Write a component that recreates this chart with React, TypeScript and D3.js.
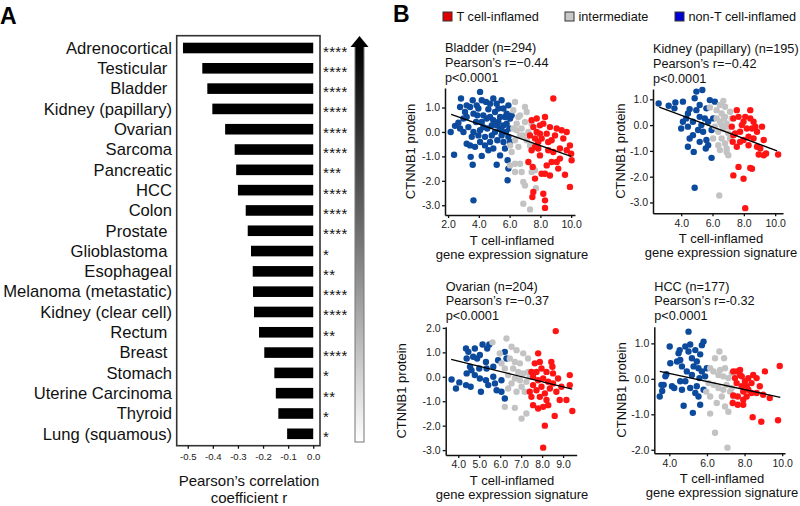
import React, { useEffect, useRef } from "react";
import * as d3 from "d3";

const FONT = "'Liberation Sans', Arial, Helvetica, sans-serif";

// ---- panel A data ----
const cancerTypes = [
  "Adrenocortical", "Testicular ", "Bladder ", "Kidney (papillary)", "Ovarian",
  "Sarcoma", "Pancreatic", "HCC", "Colon", "Prostate ", "Glioblastoma ",
  "Esophageal", "Melanoma (metastatic)", "Kidney (clear cell)", "Rectum ",
  "Breast ", "Stomach", "Uterine Carcinoma", "Thyroid", "Lung (squamous)",
];
const pearsonR = [
  -0.519, -0.442, -0.422, -0.402, -0.351, -0.313, -0.307, -0.3, -0.269, -0.261,
  -0.248, -0.241, -0.24, -0.236, -0.216, -0.195, -0.155, -0.149, -0.139, -0.104,
];
const significance = [
  "****", "****", "****", "****", "****", "****", "***", "****", "****", "****",
  "*", "**", "****", "****", "**", "****", "*", "**", "*", "*",
];
const rTicks = [-0.5, -0.4, -0.3, -0.2, -0.1, 0.0];

// ---- panel B data ----
const legendLabels = ["T cell-inflamed", "intermediate", "non-T cell-inflamed"];

const bladderTitle = ["Bladder (n=294)", "Pearson\u2019s r=\u22120.44", "p<0.0001"];
const bladderNonInflamed = [
  [2.17, 0.0], [2.45, 0.25], [2.39, -0.93], [2.67, 0.38], [2.84, 1.37], [2.78, 1.02], [3.1, 0.82],
  [3.0, 0.55], [3.32, 0.2], [3.21, -0.48], [3.43, -0.55], [3.47, -1.02], [3.6, -1.34], [3.75, -0.61],
  [3.6, 1.3], [3.43, 1.02], [3.86, 1.09], [4.08, 1.64], [3.9, 0.68], [4.19, 0.41], [4.08, 0.07],
  [3.97, -0.14], [3.82, 0.41], [4.19, -0.98], [4.4, -0.55], [4.47, 1.23], [4.62, 0.93], [4.73, 0.61],
  [4.55, 0.14], [4.84, -0.14], [4.94, 1.37], [5.16, 1.16], [5.05, 0.82], [5.27, 0.41], [5.38, 0.14],
  [5.2, -0.34], [5.16, -1.34], [5.38, -0.96], [5.6, 0.96], [5.7, 0.61], [5.81, 0.34], [5.77, 0.0],
  [5.6, -0.41], [5.92, 1.09], [5.48, 1.3], [5.87, -1.16], [5.92, -1.5], [5.87, -1.98], [6.03, 0.55],
  [5.98, 0.14], [6.13, 0.68], [4.51, 0.55], [4.29, 0.68], [4.84, 0.27], [5.05, 0.0], [5.48, -0.14],
  [4.4, -0.2], [4.73, -0.41], [4.94, -0.68], [4.08, -0.41], [3.54, -0.2], [3.0, 0.0], [2.78, 0.14],
  [3.21, 0.61], [3.65, 0.75], [5.38, 0.61], [5.6, 0.27], [5.16, 0.27], [4.62, -0.75], [5.7, -0.68],
  [3.65, 0.0], [3.21, 1.09], [3.65, -2.8], [5.27, 0.96], [5.81, 0.75], [4.94, 0.48], [5.48, 0.07],
  [5.92, -0.2], [6.03, -0.41], [4.29, 0.2], [3.97, 0.96], [4.73, 1.16], [4.19, 1.3],
];
const bladderIntermediate = [
  [6.35, 1.23], [6.24, 0.89], [6.57, 0.61], [7.0, 1.02], [7.11, 0.82], [6.46, 0.34], [6.78, 0.14],
  [6.68, -0.14], [7.0, 0.41], [6.24, 0.14], [6.35, -0.34], [6.13, -0.82], [6.35, -1.3], [6.68, -1.3],
  [6.03, -1.37], [6.35, -1.64], [6.78, -1.64], [6.89, -2.05], [7.0, -2.19], [7.11, -0.34], [7.22, 0.0],
  [7.33, -0.55], [7.71, -2.3], [6.89, -2.94], [7.33, -3.17], [6.03, -0.55], [6.57, -0.61], [7.43, 0.34],
  [6.89, -0.14], [6.46, 0.07], [6.68, 0.68], [7.43, -1.64], [7.65, -1.57],
];
const bladderInflamed = [
  [7.43, 0.48], [7.54, 0.2], [7.76, 0.0], [7.97, 0.27], [8.19, 0.34], [8.41, -0.07], [8.08, -0.27],
  [7.86, -0.41], [7.65, -0.61], [7.43, -0.75], [7.22, -1.23], [7.5, -1.43], [7.97, -0.96], [8.08, -1.71],
  [8.3, -1.71], [8.41, -1.37], [8.73, -1.23], [9.06, -1.23], [9.27, -0.68], [9.49, -0.27], [9.71, 0.0],
  [9.92, -0.55], [10.0, -0.89], [10.03, -1.16], [9.92, -2.25], [9.6, -1.75], [8.84, 1.37], [9.06, 0.14],
  [9.38, 0.07], [8.73, -0.34], [8.51, -0.75], [8.84, -0.82], [8.19, -2.53], [8.3, -2.8], [8.3, -3.11],
  [7.54, -2.46], [7.48, -2.66], [7.65, -1.91], [9.16, -1.5], [7.76, 0.55], [8.3, 0.61], [8.62, 0.2],
  [8.95, -0.14], [7.97, -0.07], [8.51, -0.41], [9.27, -1.09], [9.71, -0.75], [7.86, -0.68], [8.62, -1.78],
  [7.32, -0.14], [7.65, -0.27],
];
const bladderFit = [[2.2, 0.72], [10.0, -1.0]];

const kidneyTitle = ["Kidney (papillary) (n=195)", "Pearson\u2019s r=\u22120.42", "p<0.0001"];
const kidneyNonInflamed = [
  [2.56, 0.84], [3.2, 0.75], [3.63, 0.88], [3.57, 0.65], [4.11, 0.91], [4.54, 0.62], [4.86, 1.04],
  [4.97, 1.3], [5.35, 1.36], [5.18, 0.78], [5.61, 0.65], [5.83, 0.97], [6.15, 0.91], [4.11, 0.13],
  [4.32, 0.26], [4.0, -0.13], [4.43, -0.06], [4.54, -0.52], [4.43, -0.84], [4.8, -1.04], [4.75, -0.39],
  [5.08, -0.19], [5.29, 0.0], [5.18, 0.32], [5.51, 0.26], [5.72, 0.13], [5.61, -0.58], [5.57, -0.91],
  [5.72, -0.78], [5.94, -1.27], [4.86, -2.43], [6.04, 0.26], [5.4, -0.26], [4.75, 0.13], [4.97, 0.58],
  [4.43, 0.45], [5.94, -0.19], [5.18, -0.65],
];
const kidneyIntermediate = [
  [6.69, 0.94], [6.26, 0.58], [6.58, 0.45], [6.8, 0.32], [6.47, 0.13], [6.9, 0.06], [6.69, -0.13],
  [6.37, -0.26], [7.01, -0.32], [6.58, -0.52], [6.8, -0.71], [6.37, -0.78], [6.9, -0.91], [7.01, -1.17],
  [6.47, -0.97], [6.15, -0.06], [7.12, 0.52], [6.04, -0.52], [6.8, 0.71], [5.83, 0.68], [6.43, -2.73],
  [7.01, -0.06], [6.47, 0.78], [7.23, 0.26], [7.12, -0.52], [6.73, 0.26], [6.26, 0.26], [6.58, 0.0],
  [6.9, -1.04],
];
const kidneyInflamed = [
  [7.55, 0.58], [7.66, 0.32], [7.33, 0.26], [7.23, -0.06], [7.44, -0.32], [7.29, -0.65], [7.55, -0.84],
  [7.87, 0.0], [8.09, 0.32], [8.19, -0.13], [8.41, 0.58], [8.41, 0.26], [8.52, -0.13], [8.3, -0.45],
  [7.98, -0.58], [7.76, -0.26], [8.62, -0.52], [8.84, -0.26], [8.84, -0.84], [9.05, -0.91], [9.27, -1.17],
  [9.42, -1.1], [8.95, -1.14], [9.27, -0.58], [9.16, -0.06], [8.62, 0.13], [7.98, 0.13], [10.19, -1.14],
  [7.66, -1.62], [7.33, -1.95], [7.98, -2.08], [8.41, -1.66], [8.52, -1.69], [8.09, -3.22], [7.76, -0.65],
  [8.73, -0.06], [7.33, -0.39], [8.3, -0.78],
];
const kidneyFit = [[2.6, 0.7], [10.12, -1.0]];

const ovarianTitle = ["Ovarian (n=204)", "Pearson\u2019s r=\u22120.37", "p<0.0001"];
const ovarianNonInflamed = [
  [3.68, -0.11], [3.89, -0.48], [4.05, -0.23], [4.37, 1.16], [4.48, 1.02], [4.4, 0.75], [4.56, 0.41],
  [4.4, 0.14], [4.37, -0.34], [4.59, -0.41], [4.71, 0.82], [4.79, 1.16], [4.9, 0.75], [5.03, 0.89],
  [5.16, 1.32], [5.0, 0.34], [5.03, -0.07], [5.08, -0.61], [5.32, 0.61], [5.38, 1.16], [5.48, 1.32],
  [5.35, 0.34], [5.32, -0.14], [5.43, -0.34], [5.67, 0.0], [5.75, -0.27], [5.9, 0.68], [5.83, -0.55],
  [6.06, -0.61], [6.22, -0.89], [6.3, 0.75], [6.22, 1.02], [6.06, -0.14], [4.79, 0.07], [5.67, 0.41],
  [4.63, 0.27],
];
const ovarianIntermediate = [
  [5.63, 1.41], [6.3, 1.57], [6.54, 1.23], [6.78, 1.09], [7.1, 0.96], [7.33, 0.75], [6.46, 0.75],
  [6.7, 0.61], [6.94, 0.55], [6.62, 0.34], [6.86, 0.2], [7.1, 0.14], [6.38, 0.07], [6.7, -0.07],
  [6.94, -0.14], [7.25, -0.2], [6.54, -0.27], [7.02, -0.41], [7.17, -0.61], [6.78, -0.61], [6.22, -1.23],
  [6.7, -1.27], [7.25, -1.5], [7.02, -1.71], [6.22, 0.34], [6.06, 0.55], [7.33, 0.2], [6.38, -0.48],
  [7.41, 0.0], [5.98, 0.96],
];
const ovarianInflamed = [
  [7.81, 0.96], [7.65, 0.55], [7.89, 0.61], [7.49, 0.2], [7.73, 0.2], [7.97, 0.34], [8.21, 0.2],
  [8.44, 0.61], [8.49, 0.41], [7.57, 0.0], [7.81, -0.14], [8.05, -0.07], [8.29, -0.2], [8.52, -0.27],
  [8.76, -0.07], [8.92, -0.41], [9.32, 0.07], [9.32, -0.34], [7.57, -0.34], [7.73, -0.55], [7.49, -0.82],
  [7.89, -0.82], [8.13, -0.68], [8.37, -0.48], [8.68, -0.61], [8.84, -0.95], [9.16, -0.95], [9.44, -1.4],
  [8.6, -1.6], [8.29, -1.16], [8.05, -1.23], [7.81, -1.3], [7.57, -1.16], [8.13, -2.0], [8.05, -2.9],
  [8.65, 1.87], [7.41, -0.61], [7.97, -0.41], [8.52, 0.14], [8.21, -0.95],
];
const ovarianFit = [[3.66, 0.71], [9.44, -0.5]];

const hccTitle = ["HCC (n=177)", "Pearson\u2019s r=-0.32", "p<0.0001"];
const hccNonInflamed = [
  [3.49, -0.5], [3.58, -0.17], [3.62, -0.34], [3.7, -0.17], [3.79, 0.07], [3.84, 0.13], [4.02, 0.91],
  [4.05, 0.44], [4.14, -0.21], [4.26, -0.26], [4.49, 0.72], [4.55, 0.81], [4.58, 0.53], [4.67, 0.35],
  [4.58, -0.07], [4.67, -0.31], [4.76, -0.76], [4.85, 0.91], [5.02, 0.77], [5.02, 1.33], [5.11, 0.97],
  [5.2, 0.58], [5.29, 0.35], [5.2, 0.11], [5.11, -0.26], [5.25, -0.96], [5.38, 0.81], [5.46, 0.49],
  [5.55, 0.3], [5.6, 0.02], [5.46, -0.21], [5.55, -0.5], [5.64, 0.69], [5.73, 0.95], [5.82, 1.05],
  [5.64, -0.73], [5.82, -0.31], [5.73, 0.21], [5.9, 0.07], [4.93, 0.21], [4.41, 0.49], [4.85, -0.07],
  [5.38, -0.4], [5.99, 0.3],
];
const hccIntermediate = [
  [6.43, 0.58], [6.66, 0.77], [6.91, 0.58], [6.17, 0.3], [6.35, 0.21], [6.61, 0.11], [6.87, 0.07],
  [7.14, 0.02], [7.32, 0.16], [6.08, -0.12], [6.35, -0.17], [6.61, -0.26], [6.87, -0.31], [7.05, -0.17],
  [7.32, -0.26], [5.96, -0.36], [6.17, -0.5], [6.52, -0.68], [6.96, -0.78], [7.14, -0.93], [6.17, -0.98],
  [6.43, -1.52], [7.09, -1.94], [6.7, 0.25], [6.96, 0.3], [7.23, -0.36], [7.41, -0.5], [6.79, -0.5],
];
const hccInflamed = [
  [7.4, 0.21], [7.58, 0.21], [7.76, 0.25], [7.76, 0.11], [7.49, 0.02], [7.58, -0.12], [7.4, -0.47],
  [7.37, -0.68], [7.64, -0.5], [7.85, -0.21], [7.93, -0.36], [8.02, -0.07], [8.11, -0.5], [8.11, -0.21],
  [8.2, -0.31], [7.93, -0.59], [7.64, -0.73], [7.93, -0.73], [8.37, -0.4], [8.46, 0.11], [8.64, 0.02],
  [8.81, -0.21], [8.64, -0.4], [8.99, -0.45], [9.08, 0.21], [9.34, -0.54], [8.43, -1.08], [8.89, -1.21],
  [9.87, 0.36], [9.78, -1.17], [8.2, 0.02], [7.85, 0.07], [8.37, -0.12],
];
const hccFit = [[3.49, 0.21], [9.9, -0.52]];

const RED = "#ff1414";
const GRAY = "#c3c3c3";
const BLUE = "#0b4a9c";

const oneDecimal = (d) => Number(d).toFixed(1);

const styleAxis = (g, size) => {
  g.attr("font-family", FONT).attr("font-size", size);
  g.selectAll("text").attr("fill", "#222");
  g.selectAll("line").attr("stroke", "#111").attr("stroke-width", 1.3);
  g.selectAll("path").attr("stroke", "#111").attr("stroke-width", 1.5);
};

const ScatterPanel = ({ cfg }) => {
  const xAxisRef = useRef(null);
  const yAxisRef = useRef(null);

  const x = d3.scaleLinear().domain(cfg.xDomain).range([cfg.left, cfg.right]);
  const y = d3.scaleLinear().domain(cfg.yDomain).range([cfg.bottom, cfg.top]);

  useEffect(() => {
    const gx = d3.select(xAxisRef.current);
    gx.call(d3.axisBottom(x).tickValues(cfg.xTicks).tickSize(3).tickPadding(3).tickSizeOuter(0).tickFormat(oneDecimal));
    styleAxis(gx, 10.5);
    const gy = d3.select(yAxisRef.current);
    gy.call(d3.axisLeft(y).tickValues(cfg.yTicks).tickSize(3).tickPadding(2).tickSizeOuter(0).tickFormat(oneDecimal));
    styleAxis(gy, 10.5);
  }, []);

  const line = d3.line().x((d) => x(d[0])).y((d) => y(d[1]));
  const groups = [
    { pts: cfg.blue, color: BLUE },
    { pts: cfg.gray, color: GRAY },
    { pts: cfg.red, color: RED },
  ];
  const midY = (cfg.top + cfg.bottom) / 2;

  return (
    <g>
      {cfg.title.map((t, i) => (
        <text key={i} x={cfg.left} y={cfg.top - 6.5 - (2 - i) * 14.8} fontSize={12.7} fill="#111">
          {t}
        </text>
      ))}
      {groups.map((grp, gi) => (
        <g key={gi}>
          {grp.pts.map((p, i) => (
            <circle key={i} cx={x(p[0])} cy={y(p[1])} r={3.2} fill={grp.color} />
          ))}
        </g>
      ))}
      <path d={line(cfg.fit)} stroke="#000" strokeWidth={1.3} fill="none" />
      <g ref={xAxisRef} transform={`translate(0,${cfg.bottom})`} />
      <g ref={yAxisRef} transform={`translate(${cfg.left},0)`} />
      <text
        transform={`translate(${cfg.yTitleX},${midY}) rotate(-90)`}
        textAnchor="middle"
        fontSize={13}
        fill="#111"
        dominantBaseline="middle"
      >
        CTNNB1 protein
      </text>
      <text x={cfg.xTitleX} y={cfg.bottom + 30} textAnchor="middle" fontSize={13} fill="#111">
        T cell-inflamed
      </text>
      <text x={cfg.xTitleX} y={cfg.bottom + 44} textAnchor="middle" fontSize={13} fill="#111">
        gene expression signature
      </text>
    </g>
  );
};

const panels = [
  {
    title: bladderTitle, blue: bladderNonInflamed, gray: bladderIntermediate, red: bladderInflamed, fit: bladderFit,
    xDomain: [1.8, 10.25], yDomain: [-3.4, 1.8], xTicks: [2, 4, 6, 8, 10], yTicks: [1, 0, -1, -2, -3],
    left: 445, right: 575, top: 88, bottom: 215, yTitleX: 412, xTitleX: 512,
  },
  {
    title: kidneyTitle, blue: kidneyNonInflamed, gray: kidneyIntermediate, red: kidneyInflamed, fit: kidneyFit,
    xDomain: [2.2, 10.5], yDomain: [-3.42, 1.4], xTicks: [4, 6, 8, 10], yTicks: [1, 0, -1, -2, -3],
    left: 653, right: 783, top: 89, bottom: 213.3, yTitleX: 622, xTitleX: 721,
  },
  {
    title: ovarianTitle, blue: ovarianNonInflamed, gray: ovarianIntermediate, red: ovarianInflamed, fit: ovarianFit,
    xDomain: [3.4, 9.65], yDomain: [-3.2, 2.05], xTicks: [4, 5, 6, 7, 8, 9], yTicks: [2, 1, 0, -1, -2, -3],
    left: 445.7, right: 576.7, top: 326.7, bottom: 455, yTitleX: 403, xTitleX: 512,
  },
  {
    title: hccTitle, blue: hccNonInflamed, gray: hccIntermediate, red: hccInflamed, fit: hccFit,
    xDomain: [3.2, 10.15], yDomain: [-2.1, 1.47], xTicks: [4, 6, 8, 10], yTicks: [1, 0, -1, -2],
    left: 654.3, right: 785, top: 326.7, bottom: 453.3, yTitleX: 623, xTitleX: 722,
  },
];

const BarPanel = () => {
  const axisRef = useRef(null);
  const boxLeft = 176.7, boxRight = 320, boxTop = 35.7, boxBottom = 445.7;
  const x = d3.scaleLinear().domain([-0.544, 0.027]).range([boxLeft, boxRight]);
  const yPos = d3.scalePoint().domain(cancerTypes).range([48, 433.8]);
  const barH = 10.6;

  useEffect(() => {
    const g = d3.select(axisRef.current);
    g.call(d3.axisBottom(x).tickValues(rTicks).tickSize(3).tickPadding(4).tickFormat(oneDecimal));
    g.select(".domain").remove();
    styleAxis(g, 9.6);
  }, []);

  return (
    <g>
      <text x={0} y={24} fontSize={23} fontWeight="bold" fill="#000">A</text>
      {cancerTypes.map((c, i) => (
        <g key={c}>
          <text
            x={172}
            y={yPos(c) + 5.8}
            textAnchor="end"
            fontSize={16.6}
            fill="#111"
            style={{ whiteSpace: "pre" }}
          >
            {c}
          </text>
          <rect
            x={x(pearsonR[i])}
            y={yPos(c) - barH / 2}
            width={x(0) - x(pearsonR[i])}
            height={barH}
            fill="#000"
          />
          <text x={323} y={yPos(c) + 8.5} fontSize={15} letterSpacing={0.3} fill="#111">
            {significance[i]}
          </text>
        </g>
      ))}
      <rect x={boxLeft} y={boxTop} width={boxRight - boxLeft} height={boxBottom - boxTop} fill="none" stroke="#333" strokeWidth={1.6} />
      <g ref={axisRef} transform={`translate(0,${boxBottom})`} />
      <text x={249} y={486} textAnchor="middle" fontSize={15} fill="#111">{"Pearson\u2019s correlation"}</text>
      <text x={249} y={503} textAnchor="middle" fontSize={15} fill="#111">coefficient r</text>
      <defs>
        <linearGradient id="arrowGrad" x1="0" y1="0" x2="0" y2="1">
          <stop offset="0" stopColor="#000" />
          <stop offset="0.45" stopColor="#6a6a6a" />
          <stop offset="1" stopColor="#fff" />
        </linearGradient>
      </defs>
      <rect x={355} y={46} width={9} height={396} fill="url(#arrowGrad)" stroke="#777" strokeWidth={1} />
      <polygon points="350.5,47 368.5,47 359.5,36" fill="#000" />
    </g>
  );
};

const Legend = () => {
  const colors = ["#e00000", "#c8c8c8", "#0000d4"];
  const squareX = [443, 565, 675];
  return (
    <g>
      <text x={393} y={22} fontSize={23} fontWeight="bold" fill="#000">B</text>
      {legendLabels.map((l, i) => (
        <g key={l}>
          <rect x={squareX[i]} y={12} width={9} height={9} fill={colors[i]} stroke="#333" strokeWidth={1} />
          <text x={squareX[i] + 13.5} y={20.8} fontSize={12.7} fill="#111">{l}</text>
        </g>
      ))}
    </g>
  );
};

export default function App() {
  return (
    <svg
      width={800}
      height={506}
      style={{ position: "absolute", left: 0, top: 0, background: "#fff" }}
      fontFamily={FONT}
    >
      <BarPanel />
      <Legend />
      {panels.map((p, i) => (
        <ScatterPanel key={i} cfg={p} />
      ))}
    </svg>
  );
}
